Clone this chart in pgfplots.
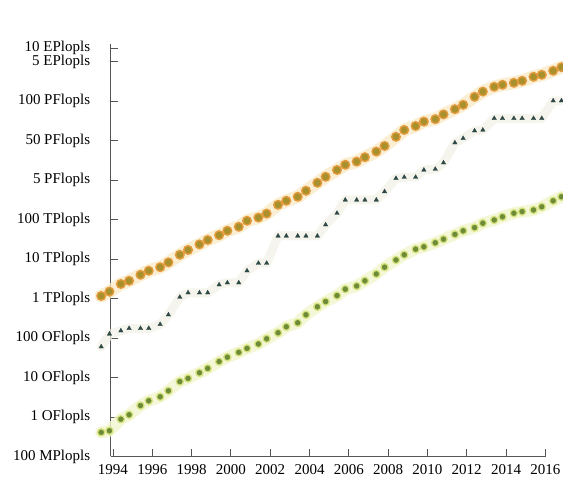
\documentclass[border=0pt]{standalone}
\usepackage{fontspec}
\setmainfont{Liberation Serif}
\usepackage{pgfplots}
\usepackage{pgfplotstable}
\pgfplotsset{compat=1.18}
\definecolor{haloO}{HTML}{FAE9C4}
\definecolor{ringO}{HTML}{E39A3C}
\definecolor{fillO}{HTML}{A8902C}
\definecolor{haloT}{HTML}{F1F1E6}
\definecolor{fillT}{HTML}{2E4846}
\definecolor{haloG}{HTML}{F3F6CE}
\definecolor{ringG}{HTML}{D6E27E}
\definecolor{fillG}{HTML}{6E8C38}
\definecolor{axisgray}{HTML}{555555}

\pgfplotstableread{
x y
1993.40 4.10
1993.82 4.21
1994.40 4.40
1994.82 4.48
1995.40 4.63
1995.82 4.73
1996.40 4.82
1996.82 4.94
1997.40 5.13
1997.82 5.25
1998.40 5.39
1998.82 5.50
1999.40 5.62
1999.82 5.73
2000.40 5.83
2000.82 5.98
2001.40 6.06
2001.82 6.16
2002.40 6.38
2002.82 6.48
2003.40 6.58
2003.82 6.73
2004.40 6.93
2004.82 7.08
2005.40 7.25
2005.82 7.38
2006.40 7.46
2006.82 7.57
2007.40 7.71
2007.82 7.85
2008.40 8.08
2008.82 8.25
2009.40 8.35
2009.82 8.46
2010.40 8.52
2010.82 8.64
2011.40 8.77
2011.82 8.88
2012.40 9.08
2012.82 9.21
2013.40 9.33
2013.82 9.38
2014.40 9.43
2014.82 9.48
2015.40 9.58
2015.82 9.63
2016.40 9.73
2016.82 9.82
}\sumdata

\pgfplotstableread{
x y
1993.40 2.83
1993.82 3.15
1994.40 3.23
1994.82 3.29
1995.40 3.29
1995.82 3.29
1996.40 3.39
1996.82 3.63
1997.40 4.07
1997.82 4.18
1998.40 4.18
1998.82 4.18
1999.40 4.38
1999.82 4.43
2000.40 4.43
2000.82 4.73
2001.40 4.92
2001.82 4.92
2002.40 5.60
2002.82 5.60
2003.40 5.60
2003.82 5.60
2004.40 5.60
2004.82 5.88
2005.40 6.17
2005.82 6.50
2006.40 6.50
2006.82 6.50
2007.40 6.50
2007.82 6.71
2008.40 7.04
2008.82 7.07
2009.40 7.07
2009.82 7.25
2010.40 7.27
2010.82 7.43
2011.40 7.93
2011.82 8.04
2012.40 8.23
2012.82 8.25
2013.40 8.54
2013.82 8.54
2014.40 8.54
2014.82 8.54
2015.40 8.54
2015.82 8.54
2016.40 8.98
2016.82 8.98
}\firstdata

\pgfplotstableread{
x y
1993.40 0.69
1993.82 0.73
1994.40 1.02
1994.82 1.13
1995.40 1.36
1995.82 1.48
1996.40 1.58
1996.82 1.73
1997.40 1.96
1997.82 2.04
1998.40 2.18
1998.82 2.29
1999.40 2.46
1999.82 2.57
2000.40 2.69
2000.82 2.79
2001.40 2.90
2001.82 3.03
2002.40 3.18
2002.82 3.33
2003.40 3.43
2003.82 3.63
2004.40 3.83
2004.82 3.96
2005.40 4.11
2005.82 4.27
2006.40 4.35
2006.82 4.48
2007.40 4.65
2007.82 4.82
2008.40 5.00
2008.82 5.13
2009.40 5.27
2009.82 5.33
2010.40 5.43
2010.82 5.52
2011.40 5.64
2011.82 5.73
2012.40 5.81
2012.82 5.92
2013.40 6.00
2013.82 6.08
2014.40 6.17
2014.82 6.21
2015.40 6.25
2015.82 6.33
2016.40 6.48
2016.82 6.58
}\lastdata

\begin{document}
\begin{tikzpicture}
\begin{axis}[
  scale only axis,
  width=435.1bp, height=412.5bp,
  xmin=1993.88, xmax=2016.02,
  ymin=0.0875, ymax=10.4,
  clip=false,
  axis x line*=bottom, axis y line*=left,
  axis line style={color=axisgray, line width=0.9bp},
  tick style={color=axisgray, line width=0.9bp},
  tick align=inside,
  major tick length=7bp,
  xtick={1994,1996,1998,2000,2002,2004,2006,2008,2010,2012,2014,2016},
  xticklabels={1994,1996,1998,2000,2002,2004,2006,2008,2010,2012,2014,2016},
  ytick={0.0875,1.075,2.0625,3.05,4.0375,5.025,6.0125,7.0,7.9875,8.975,9.9625,10.3},
  yticklabels={100 MPlopls,1 OFlopls,10 OFlopls,100 OFlopls,1 TPlopls,10 TPlopls,100 TPlopls,5 PFlopls,50 PFlopls,100 PFlopls,5 EPlopls,10 EPlopls},
  ticklabel style={font=\fontsize{15bp}{18bp}\selectfont, text=black},
  yticklabel style={xshift=-17bp},
  xticklabel style={yshift=-4.5bp},
  /pgf/number format/assume math mode=true,
]
% halos
\addplot[no marks, draw=haloO, line width=13bp, line cap=round, line join=round, opacity=0.75] table[x=x,y=y] {\sumdata};
\addplot[no marks, draw=haloT, line width=9bp, line cap=round, line join=round, opacity=0.7] table[x=x,y=y] {\firstdata};
\addplot[no marks, draw=haloG, line width=12bp, line cap=round, line join=round, opacity=0.8] table[x=x,y=y] {\lastdata};
% markers
\addplot[only marks, mark=*, mark size=4.3bp, mark options={fill=fillO, draw=ringO, line width=1.4bp}] table[x=x,y=y] {\sumdata};
\addplot[only marks, mark=triangle*, mark size=2.6bp, mark options={fill=fillT, draw=fillT, line width=0.3bp}] table[x=x,y=y] {\firstdata};
\addplot[only marks, mark=*, mark size=3.6bp, mark options={fill=fillG, draw=ringG, line width=1.3bp}] table[x=x,y=y] {\lastdata};
\coordinate (bbsw) at (axis cs:1988.25,-0.45);
\coordinate (bbne) at (axis cs:2016.90,11.5);
\end{axis}
\pgfresetboundingbox
\useasboundingbox (bbsw) rectangle (bbne);
\end{tikzpicture}
\end{document}
